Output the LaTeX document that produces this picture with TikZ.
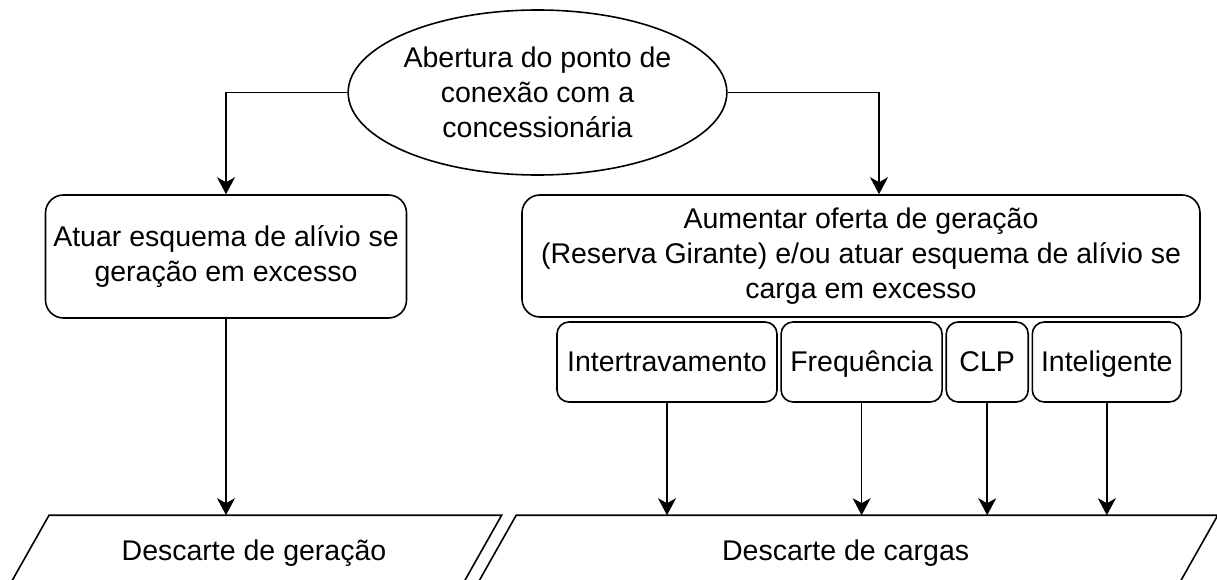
\documentclass[tikz,border=0pt]{standalone}
\usepackage{fontspec}
\setmainfont{Liberation Sans}
\usetikzlibrary{positioning}
\usetikzlibrary{shapes.geometric}
\usetikzlibrary{arrows.meta}
\tikzset{>={Stealth[length=17pt,width=18pt,inset=5pt]}}
\tikzset{blk/.style={draw, rounded corners=18pt, align=center, inner sep=0pt}}
\tikzset{sub/.style={draw, rounded corners=12pt, minimum height=80pt, inner sep=0pt, text height=24pt, text depth=5pt}}
\tikzset{ell/.style={draw, ellipse, align=center, inner sep=0pt}}
\tikzset{para/.style={inner sep=0pt, minimum height=74pt}}
\newcommand{\slnt}{21.35pt}

\begin{document}
\begin{tikzpicture}[x=1pt, y=-1pt, font=\fontsize{28.5}{35}\selectfont, line width=1.6pt]
\useasboundingbox (0,0) rectangle (1217,580);
\clip (0,0) rectangle (1217,580);

\node[ell, minimum width=349pt, minimum height=165pt] (abert) at (537.5,92.5) {Abertura do ponto de\\conexão com a\\concessionária};

\node[blk, minimum width=361pt, minimum height=123pt] (alivio) at (226,256.5) {Atuar esquema de alívio se\\geração em excesso};
\node[blk, minimum width=678pt, minimum height=122pt] (aumen) at (861,256) {Aumentar oferta de geração\\(Reserva Girante) e/ou atuar esquema de alívio se\\carga em excesso};

% esquemas de alivio
\node[sub, minimum width=220pt] (inter) at (667,362) {Intertravamento};
\node[sub, minimum width=161pt, right=2.5pt of inter] (freq) {Frequência};
\node[sub, minimum width=82pt, right=2.5pt of freq] (clp) {CLP};
\node[sub, minimum width=149pt, right=2.5pt of clp] (intel) {Inteligente};

% descartes
\node[para, minimum width=451pt] (ger) at (254,553) {Descarte de geração};
\node[para, minimum width=700pt] (carg) at (845.65,553) {Descarte de cargas};
\draw ([xshift=\slnt]ger.north west) -- ([xshift=\slnt]ger.north east)
  -- ([xshift=-\slnt]ger.south east) -- ([xshift=-\slnt]ger.south west) -- cycle;
\draw ([xshift=\slnt]carg.north west) -- ([xshift=\slnt]carg.north east)
  -- ([xshift=-\slnt]carg.south east) -- ([xshift=-\slnt]carg.south west) -- cycle;

\draw[->] (abert.west) -| (alivio.north);
\draw[->] (abert.east) -| ([xshift=18pt]aumen.north);

\draw[->] (alivio.south) -- (alivio.south |- ger.north);
\draw[->] (inter.south) -- (inter.south |- carg.north);
\draw[->] (freq.south) -- (freq.south |- carg.north);
\draw[->] (clp.south) -- (clp.south |- carg.north);
\draw[->] (intel.south) -- (intel.south |- carg.north);

\end{tikzpicture}
\end{document}
